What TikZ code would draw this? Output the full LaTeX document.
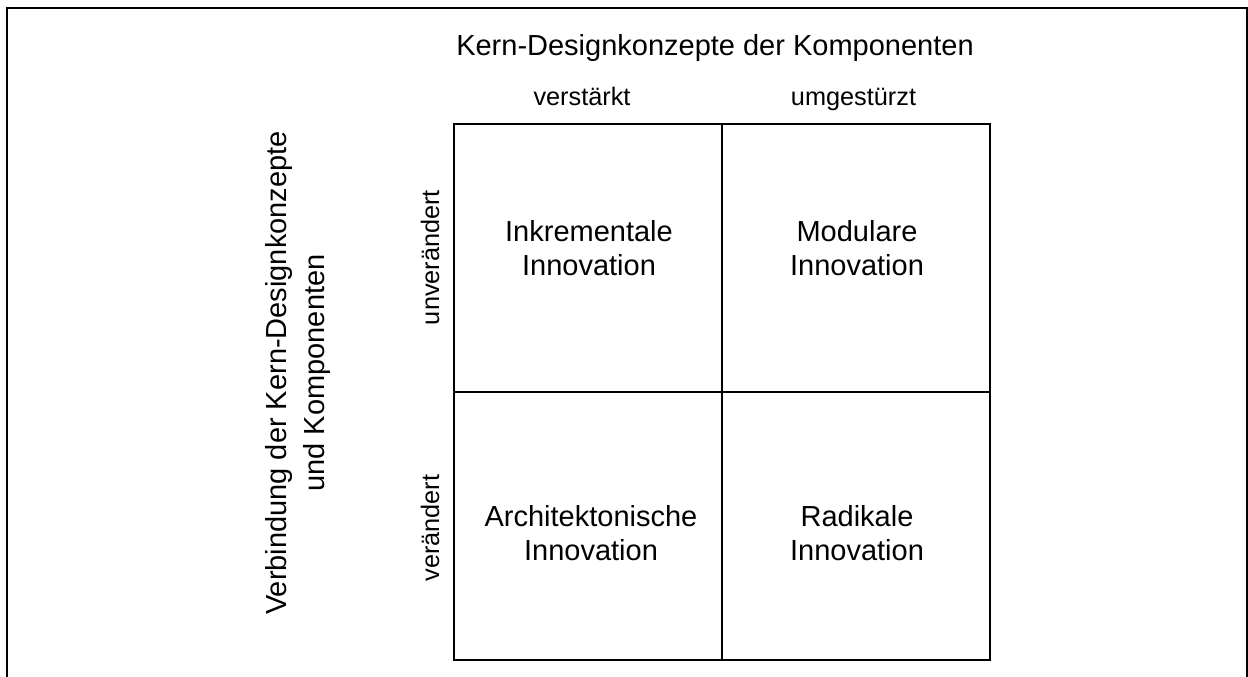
\documentclass[tikz,border=0pt]{standalone}
\usepackage{fontspec}
\setmainfont{Liberation Sans}
\begin{document}
\begin{tikzpicture}[x=1pt,y=-1pt,
  frame/.style={line width=2.4pt},
  cell/.style={draw,line width=1.3pt,minimum width=268pt,minimum height=268pt,inner sep=0pt},
  celltext/.style={align=center,inner sep=0pt,font=\fontsize{29}{33.3}\selectfont},
  axislabel/.style={inner sep=0pt,font=\fontsize{25.3}{30}\selectfont},
  title/.style={inner sep=0pt,font=\fontsize{29}{38}\selectfont}]
\useasboundingbox (0,0) rectangle (1248,677);
\clip (0,0) rectangle (1248,677);

% outer frame, open at the bottom
\coordinate (fbl) at (7,700);
\coordinate (ftl) at (7,8);
\coordinate (ftr) at (1247,8);
\coordinate (fbr) at (1247,700);
\draw[frame] (fbl) -- (ftl) -- (ftr) -- (fbr);

% 2x2 matrix
\node[cell] (c11) at (588,258) {};
\node[cell] (c12) at (856,258) {};
\node[cell] (c21) at (588,526) {};
\node[cell] (c22) at (856,526) {};

\node[celltext] (t11) at (589,248) {Inkrementale\\Innovation};
\node[celltext] (t12) at (857,248) {Modulare\\Innovation};
\node[celltext] (t21) at (591,533) {Architektonische\\Innovation};
\node[celltext] (t22) at (857,533) {Radikale\\Innovation};

% column headings
\node[title,anchor=base] (ttop) at (715,55.5) {Kern-Designkonzepte der Komponenten};
\node[axislabel,anchor=base] (col1) at (582,106) {verstärkt};
\node[axislabel,anchor=base] (col2) at (853.5,106) {umgestürzt};

% row headings
\node[title,rotate=90,align=center] (tside) at (298,373) {Verbindung der Kern-Designkonzepte\\und Komponenten};
\node[axislabel,rotate=90,anchor=base] (row1) at (439,257.5) {unverändert};
\node[axislabel,rotate=90,anchor=base] (row2) at (439,528) {verändert};
\end{tikzpicture}
\end{document}
